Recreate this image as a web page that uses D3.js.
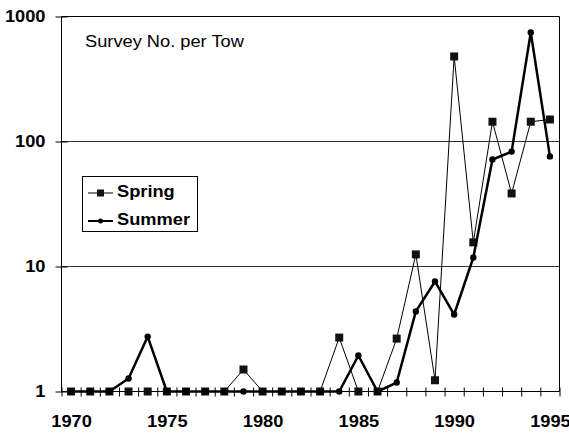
<!DOCTYPE html>
<html>
<head>
<meta charset="utf-8">
<style>
    body { margin: 0; background: #fff; }
    svg { display: block; font-family: 'Liberation Sans', Arial, sans-serif; }
    .axis .domain { stroke: #000; }
    .axis .tick line { stroke: #000; }
    .axis text { font-size: 16px; font-weight: bold; fill: #000; }
    .grid line { stroke: #333; }
</style>
</head>
<body>
<svg width="569" height="433"></svg>
<script src="https://d3js.org/d3.v7.min.js"></script>
<script>
    // data
    let years = [1970, 1971, 1972, 1973, 1974, 1975, 1976, 1977, 1978, 1979,
        1980, 1981, 1982, 1983, 1984, 1985, 1986, 1987, 1988, 1989,
        1990, 1991, 1992, 1993, 1994, 1995]
    let spring = [1, 1, 1, 1, 1, 1, 1, 1, 1, 1.5,
        1, 1, 1, 1, 2.7, 1, 1, 2.65, 12.5, 1.23,
        479, 15.6, 144, 38.4, 144, 150]
    let summer = [1, 1, 1, 1.27, 2.75, 1, 1, 1, 1, 1,
        1, 1, 1, 1, 1, 1.94, 1, 1.18, 4.37, 7.59,
        4.13, 11.8, 71.8, 83, 745, 76]
    let xLabels = [1970, 1975, 1980, 1985, 1990, 1995]
    let yTicks = [1, 10, 100, 1000]
    let gridVals = [10, 100]

    let stretch = 1.14   // the original text is a bit wider than Arial

    let svg = d3.select("svg")

    let x = d3.scaleLinear()
        .domain([years[0] - 0.5, years[years.length - 1] + 0.5])
        .range([61.5, 559.5])

    let y = d3.scaleLog()
        .domain([1, 1000])
        .range([391.5, 16.5])

    // gridlines
    svg.append("g")
        .attr("class", "grid")
        .selectAll("line")
        .data(gridVals)
        .join("line")
        .attr("x1", x.range()[0])
        .attr("x2", x.range()[1])
        .attr("y1", d => y(d))
        .attr("y2", d => y(d))

    // plot border (top and right)
    svg.append("path")
        .attr("d", `M${x.range()[0]},${y(1000)}H${x.range()[1]}V${y(1)}`)
        .attr("fill", "none")
        .attr("stroke", "#000")

    // x axis: tick marks at the category boundaries
    let bounds = years.map(d => d - 0.5).concat([years[years.length - 1] + 0.5])
    svg.append("g")
        .attr("class", "axis")
        .attr("transform", `translate(0,${y(1)})`)
        .call(d3.axisBottom(x).tickValues(bounds).tickSize(5).tickFormat(""))
        .call(g => g.select(".domain").attr("d", `M${x.range()[0]},0H${x.range()[1]}`))
        .call(g => g.selectAll(".tick line").attr("y1", -4))

    // x labels
    svg.append("g")
        .attr("class", "axis xlab")
        .attr("transform", `translate(0,${y(1)})`)
        .call(d3.axisBottom(x).tickValues(xLabels).tickSize(0).tickPadding(24).tickFormat(d3.format("d")))
        .call(g => g.select(".domain").remove())

    // y axis
    svg.append("g")
        .attr("class", "axis")
        .attr("transform", `translate(${x.range()[0]},0)`)
        .call(d3.axisLeft(y).tickValues(yTicks).tickSize(6).tickPadding(10).tickFormat(d3.format("d")))
        .call(g => g.select(".domain").attr("d", `M0,${y(1000)}V${y(1)}`))
        .call(g => g.selectAll(".tick line").attr("x1", 6))

    // series
    let line = d3.line()
        .x((d, i) => x(years[i]))
        .y(d => y(d))

    svg.append("path")
        .datum(spring)
        .attr("fill", "none")
        .attr("stroke", "#000")
        .attr("stroke-width", 1)
        .attr("d", line)

    svg.append("g")
        .selectAll("rect")
        .data(spring)
        .join("rect")
        .attr("x", (d, i) => x(years[i]) - 4)
        .attr("y", d => y(d) - 4)
        .attr("width", 8)
        .attr("height", 8)
        .attr("fill", "#111")

    svg.append("path")
        .datum(summer)
        .attr("fill", "none")
        .attr("stroke", "#000")
        .attr("stroke-width", 2.5)
        .attr("stroke-linejoin", "round")
        .attr("d", line)

    svg.append("g")
        .selectAll("circle")
        .data(summer)
        .join("circle")
        .attr("cx", (d, i) => x(years[i]))
        .attr("cy", d => y(d))
        .attr("r", 3.2)
        .attr("fill", "#000")

    // title
    svg.append("text")
        .attr("x", 85)
        .attr("y", 47)
        .style("font-size", "16px")
        .text("Survey No. per Tow")

    // legend
    let legend = svg.append("g")
    legend.append("rect")
        .attr("x", 82.5)
        .attr("y", 176.5)
        .attr("width", 115)
        .attr("height", 55)
        .attr("fill", "#fff")
        .attr("stroke", "#000")

    let entries = [
        { name: "Spring", y: 193, mark: "square" },
        { name: "Summer", y: 221, mark: "dot" }
    ]
    entries.forEach(e => {
        legend.append("line")
            .attr("x1", 88).attr("x2", 113)
            .attr("y1", e.y).attr("y2", e.y)
            .attr("stroke", "#000")
            .attr("stroke-width", e.mark == "square" ? 1 : 2)
        if (e.mark == "square") {
            legend.append("rect")
                .attr("x", 97).attr("y", e.y - 3.5)
                .attr("width", 7).attr("height", 7)
                .attr("fill", "#111")
        } else {
            legend.append("circle")
                .attr("cx", 100.5).attr("cy", e.y)
                .attr("r", 2.5)
                .attr("fill", "#000")
        }
        legend.append("text")
            .attr("x", 117)
            .attr("y", e.y + 4)
            .style("font-size", "16px")
            .style("font-weight", "bold")
            .text(e.name)
    })

    // widen every label a little, like the original
    svg.selectAll("text").each(function () {
        let w = this.getComputedTextLength()
        if (w > 0) {
            d3.select(this)
                .attr("textLength", w * stretch)
                .attr("lengthAdjust", "spacingAndGlyphs")
        }
    })
</script>
</body>
</html>
